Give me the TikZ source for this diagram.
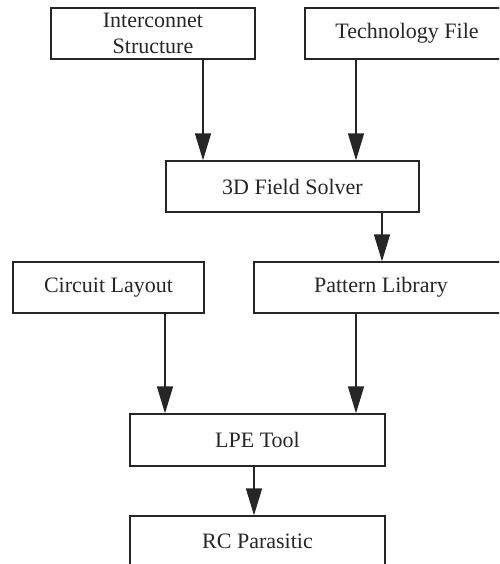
\documentclass[tikz,border=0pt]{standalone}
\usepackage{fontspec}
\setmainfont{Liberation Serif}
\usetikzlibrary{arrows.meta}
\begin{document}
\begin{tikzpicture}[x=1pt,y=1pt,
  box/.style={draw=black!85,line width=1.3pt,rectangle,inner sep=0pt,
    font=\fontsize{22}{26}\selectfont,text=black!85,align=center},
  arr/.style={line width=1.5pt,draw=black!85,-{Triangle[length=27pt,width=16pt]},shorten >=0pt}]
\useasboundingbox (0,0) rectangle (499,-564);
\clip (0,0) rectangle (499,-564);
\node[box,minimum width=204pt,minimum height=51pt] (inter) at (153,-33.5) {Interconnet\\Structure};
\node[box,minimum width=204pt,minimum height=51pt] (tech) at (407,-33.5) {Technology File};
\node[box,minimum width=253pt,minimum height=51pt] (fs) at (292.5,-186.5) {3D Field Solver};
\node[box,minimum width=191pt,minimum height=51pt] (cl) at (108.5,-287.5) {Circuit Layout};
\node[box,minimum width=254pt,minimum height=51pt] (pl) at (381,-287.5) {Pattern Library};
\node[box,minimum width=255pt,minimum height=52pt] (lpe) at (257.5,-440) {LPE Tool};
\node[box,minimum width=255pt,minimum height=51pt] (rc) at (257.5,-541.5) {RC Parasitic};
\draw[arr] ([xshift=50pt]inter.south) -- ([xshift=-89.5pt]fs.north);
\draw[arr] ([xshift=-51pt]tech.south) -- ([xshift=63.5pt]fs.north);
\draw[arr] ([xshift=89.5pt]fs.south) -- ([xshift=1pt]pl.north);
\draw[arr] ([xshift=56.5pt]cl.south) -- ([xshift=-92.5pt]lpe.north);
\draw[arr] ([xshift=-25pt]pl.south) -- ([xshift=98.5pt]lpe.north);
\draw[arr] ([xshift=-3.5pt]lpe.south) -- ([xshift=-3.5pt]rc.north);
\end{tikzpicture}
\end{document}
